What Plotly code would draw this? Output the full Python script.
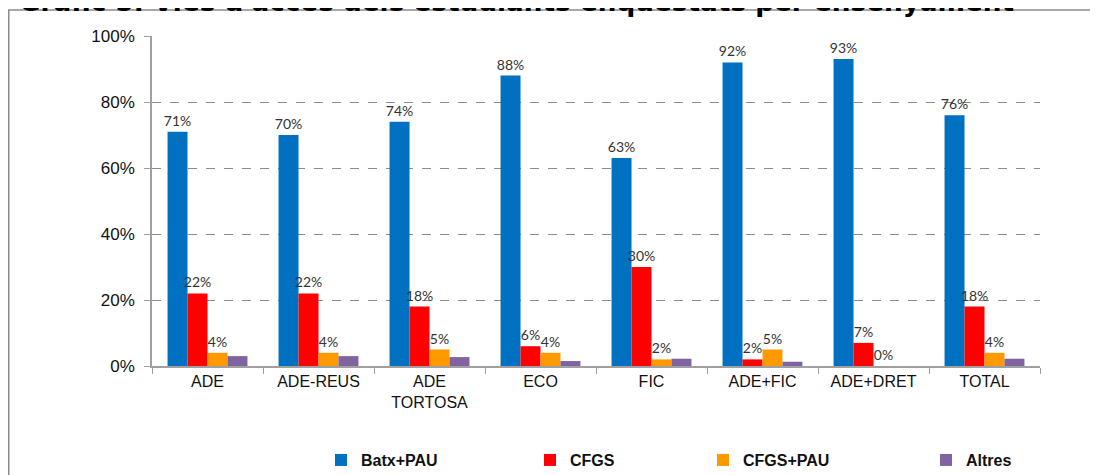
import plotly.graph_objects as go

categories = ["ADE", "ADE-REUS", "ADE<br>TORTOSA", "ECO", "FIC", "ADE+FIC", "ADE+DRET", "TOTAL"]
batx_pau = [0.71, 0.70, 0.74, 0.88, 0.63, 0.92, 0.93, 0.76]
cfgs = [0.22, 0.22, 0.18, 0.06, 0.30, 0.02, 0.07, 0.18]
cfgs_pau = [0.04, 0.04, 0.05, 0.04, 0.02, 0.05, 0.00, 0.04]
altres = [0.03, 0.03, 0.027, 0.015, 0.022, 0.013, 0.0, 0.022]

series = [
    ("Batx+PAU", batx_pau, "#0070C0", True, 164),
    ("CFGS", cfgs, "#FF0000", True, 128),
    ("CFGS+PAU", cfgs_pau, "#FF9900", True, 178),
    ("Altres", altres, "#8064A2", False, 60),
]

L, T, PW, PH = 144, 28, 888, 330

fig = go.Figure()
for name, vals, color, lab, lw in series:
    fig.add_trace(go.Bar(
        name=name, x=categories, y=vals,
        marker=dict(color=color, line=dict(width=0)),
        text=[f"{round(v*100):d}%" for v in vals] if lab else None,
        textposition="outside" if lab else "none",
        textfont=dict(family="Lato", size=14, color="#333333"),
        constraintext="none", cliponaxis=False,
        legendwidth=lw,
    ))

fig.update_layout(
    width=1098, height=475,
    margin=dict(l=L, r=1098 - L - PW, t=T, b=475 - T - PH, autoexpand=False),
    paper_bgcolor="white", plot_bgcolor="white",
    barmode="group", bargap=0.28, bargroupgap=0,
    font=dict(family="Liberation Sans", size=16, color="#111111"),
    showlegend=True,
    legend=dict(orientation="h", x=(313 - L) / PW, y=-0.285, xanchor="left", yanchor="middle",
                font=dict(family="Liberation Sans", size=16, color="#111111", weight="bold"),
                itemwidth=30, traceorder="normal"),
    xaxis=dict(showline=True, linecolor="#A0A0A0", linewidth=1.5,
               ticks="outside", tickson="boundaries", ticklen=6, tickcolor="#A0A0A0",
               tickfont=dict(family="Liberation Sans", size=16, color="#111111")),
    yaxis=dict(range=[0, 1], tickvals=[0, 0.2, 0.4, 0.6, 0.8, 1.0],
               tickformat=".0%", showline=True, linecolor="#A0A0A0", linewidth=1.5,
               ticks="outside", ticklen=6, tickcolor="#A0A0A0",
               showgrid=True, gridcolor="#8C8C8C", griddash="dash", gridwidth=1,
               zeroline=False, ticklabelstandoff=6,
               tickfont=dict(family="Liberation Sans", size=17, color="#111111")),
    shapes=[dict(type="rect", xref="paper", yref="paper",
                 x0=(0.75 - L) / PW, x1=1.3, y0=-1.0, y1=1 + (T - 2) / PH,
                 line=dict(color="#8C8C8C", width=1.5), layer="below")],
    annotations=[dict(text="<b>Gràfic 5. Vies d'accés dels estudiants enquestats per ensenyament</b>",
                      xref="paper", yref="paper", x=(9 - L) / PW, y=1 + (T - 11) / PH,
                      xanchor="left", yanchor="bottom", showarrow=False,
                      font=dict(family="DejaVu Sans", size=26.3, color="#000000"))],
)

fig.write_html("out.html")
